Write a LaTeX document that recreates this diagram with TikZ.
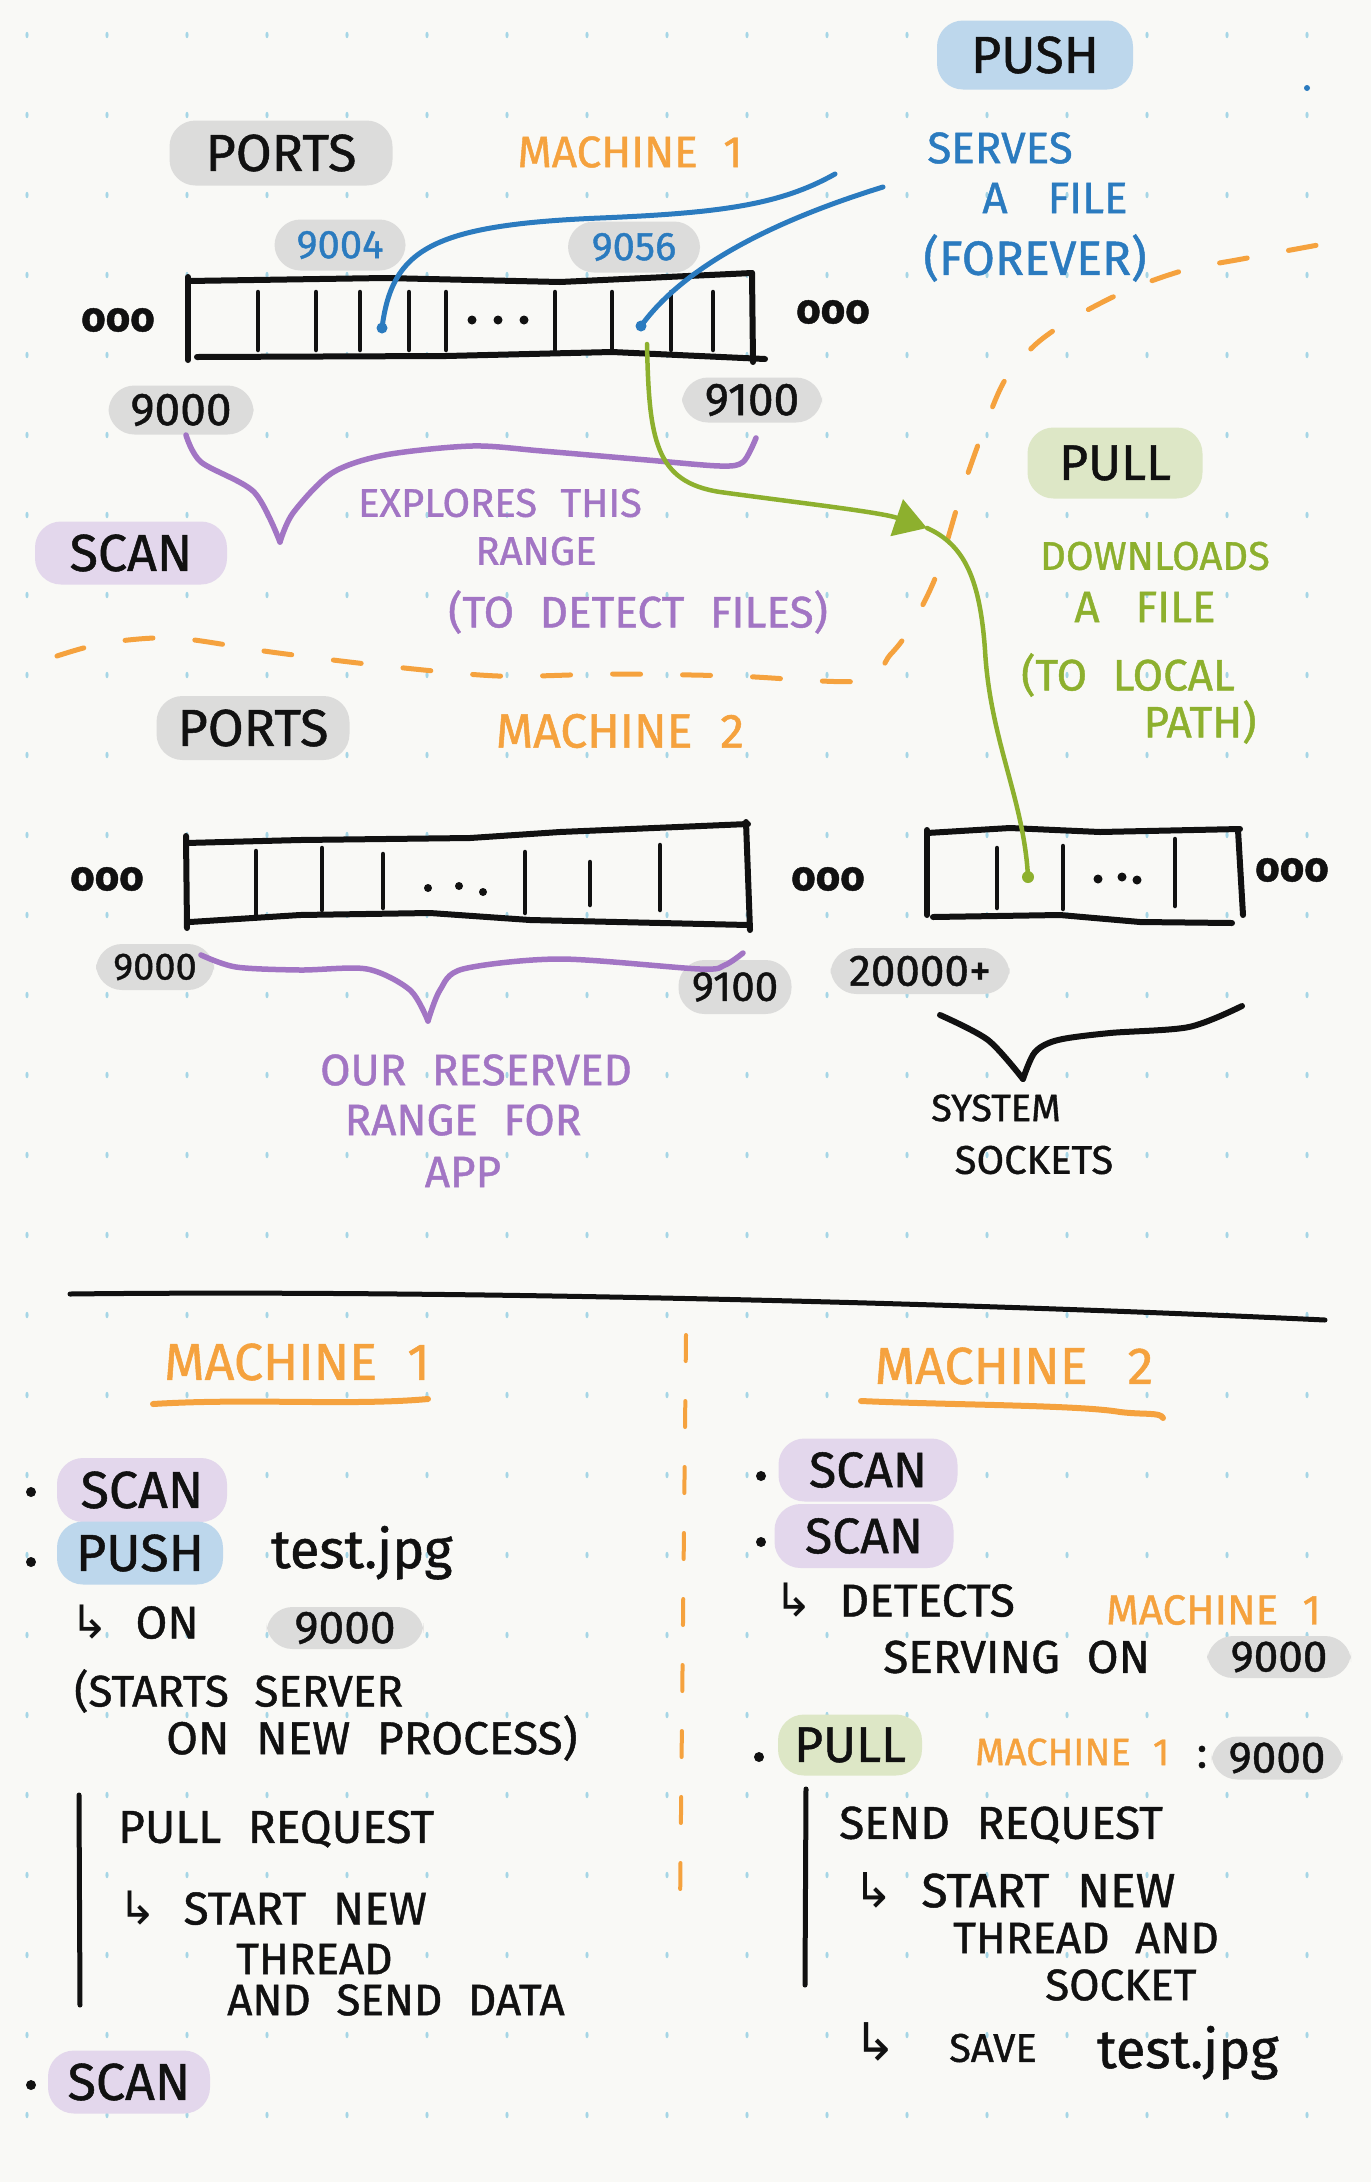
\documentclass[tikz,border=0pt]{standalone}
\usepackage{fontspec}
\setmainfont{Fira Sans}[WordSpace=2.2, FakeBold=1]
\newfontfamily\symf{DejaVu Sans}
\usetikzlibrary{arrows.meta}
\definecolor{bgc}{HTML}{F9F9F6}
\definecolor{gridc}{HTML}{A6D6E6}
\definecolor{ink}{HTML}{111111}
\definecolor{orng}{HTML}{F5A23E}
\definecolor{blu}{HTML}{2B7BBF}
\definecolor{purp}{HTML}{A275C4}
\definecolor{grn}{HTML}{8DB02E}
\definecolor{pillgrey}{HTML}{DCDCDB}
\definecolor{pillpurp}{HTML}{E3D7EC}
\definecolor{pillblue}{HTML}{BDD7EC}
\definecolor{pillgreen}{HTML}{DDE7C6}
\newcommand{\fsz}[1]{\fontsize{#1}{#1}\selectfont}
\tikzset{
  tk/.style={inner sep=0pt, text=ink},
  ot/.style={inner sep=0pt, text=orng},
  bt/.style={inner sep=0pt, text=blu},
  purt/.style={inner sep=0pt, text=purp},
  greent/.style={inner sep=0pt, text=grn},
  pill/.style={rounded corners=26pt, inner sep=0pt, text=ink},
  gpill/.style={pill, fill=pillgrey},
  ppill/.style={pill, fill=pillpurp},
  bpill/.style={pill, fill=pillblue},
  grpill/.style={pill, fill=pillgreen},
  strip/.style={draw=ink, line width=6pt, line cap=round, line join=round},
  inner/.style={draw=ink, line width=4.5pt, line cap=round},
  bline/.style={draw=blu, line width=5pt, line cap=round},
  gline/.style={draw=grn, line width=4.5pt, line cap=round},
  pline/.style={draw=purp, line width=5.5pt, line cap=round, line join=round},
  kline/.style={draw=ink, line width=6pt, line cap=round, line join=round},
  odash/.style={draw=orng, line width=5pt, line cap=round, dash pattern=on 28pt off 42pt},
  ouline/.style={draw=orng, line width=6pt, line cap=round},
  bdot/.style={circle, fill=blu, inner sep=0pt, minimum size=11pt},
  gdot/.style={circle, fill=grn, inner sep=0pt, minimum size=12pt},
  bullet/.style={circle, fill=ink, inner sep=0pt, minimum size=10pt},
  ooo/.style={inner sep=0pt, text=ink, font=\fsz{42}\bfseries},
}
\begin{document}
\begin{tikzpicture}[x=1pt,y=-1pt]
\useasboundingbox (0,0) rectangle (1371,2182);
\fill[bgc] (0,0) rectangle (1371,2182);
\foreach \i in {0,...,16} \foreach \j in {0,...,26}
  \fill[gridc] (27+80*\i,35+80*\j) ellipse (1.6 and 3.2);

% ---------------- top: machine 1 ----------------
\node[bpill, minimum width=196pt, minimum height=69pt, font=\fsz{52}] (push) at (1035,55) {PUSH};
\fill[blu] (1307,88) circle (3);
\node[gpill, minimum width=223pt, minimum height=65pt, font=\fsz{52}] (ports1) at (281,153) {PORTS};
\node[ot, font=\fsz{44}] (m1) at (630,152) {MACHINE 1};
\node[bt, font=\fsz{44}] (serves) at (1000,148) {SERVES};
\node[bt, font=\fsz{44}] (afile1) at (1055,198) {A\hspace{40pt}FILE};
\node[bt, font=\fsz{48}] (forever) at (1035,258) {(FOREVER)};
\node[gpill, minimum width=131pt, minimum height=51pt, text=blu, font=\fsz{40}] (p9004) at (340,245) {9004};
\node[gpill, minimum width=132pt, minimum height=51pt, text=blu, font=\fsz{40}] (p9056) at (634,247) {9056};

% strip 1
\draw[strip] (188,281) -- (385,278) -- (560,282) -- (752,273);
\draw[strip] (188,277) -- (188,360);
\draw[strip] (197,357) -- (446,356) -- (612,352) -- (765,359);
\draw[strip] (752,273) -- (753,362);
\foreach \x in {258,316,360,409,446,555,612,671,713}
  \draw[inner] (\x,292) -- (\x,350);
\foreach \x in {472,498,524} \fill[ink] (\x,320) circle (4.5);
\node[ooo] (ooo1) at (118,320) {ooo};
\node[ooo] (ooo2) at (833,312) {ooo};

\node[gpill, minimum width=145pt, minimum height=49pt, font=\fsz{46}] (p9000a) at (181,410) {9000};
\node[gpill, minimum width=140pt, minimum height=45pt, font=\fsz{46}] (p9100a) at (752,400) {9100};

% scan brace
\draw[pline] plot[smooth] coordinates {(186,435) (201,462) (254,492) (280,542)};
\draw[pline] plot[smooth] coordinates {(280,542) (293,513) (332,473) (385,455) (472,446) (542,451) (647,460) (720,466) (743,462) (756,438)};
\node[purt, font=\fsz{40}] (explores) at (500,503) {EXPLORES THIS};
\node[purt, font=\fsz{40}] (range1) at (536,551) {RANGE};
\node[purt, font=\fsz{44}] (detect) at (638,612) {(TO DETECT FILES)};
\node[ppill, minimum width=192pt, minimum height=63pt, font=\fsz{52}] (scan1) at (131,553) {SCAN};

% pull
\node[grpill, minimum width=175pt, minimum height=71pt, font=\fsz{50}] (pull1) at (1115,463) {PULL};
\node[greent, font=\fsz{40}] (downloads) at (1155,556) {DOWNLOADS};
\node[greent, font=\fsz{44}] (afile2) at (1145,607) {A\hspace{36pt}FILE};
\node[greent, font=\fsz{44}] (tolocal) at (1128,675) {(TO LOCAL};
\node[greent, font=\fsz{44}] (path) at (1200,722) {PATH)};

% orange dashed boundary
\draw[odash] plot[smooth] coordinates {(57,656) (105,643) (175,638) (271,652) (376,665) (498,676) (612,674) (734,676) (861,681) (890,655) (909,630) (936,576) (962,491) (984,429) (1005,380) (1036,344) (1075,317) (1128,290) (1185,270) (1242,259) (1329,243)};

% blue connectors
\node[bdot] (d9004) at (382,328) {};
\node[bdot] (d9056) at (641,326) {};
\coordinate (b1end) at (835,174);
\coordinate (b2end) at (883,187);
\draw[bline] (d9004.center) .. controls (392,250) and (430,225) .. (600,218) .. controls (720,213) and (780,205) .. (b1end);
\draw[bline] (d9056.center) .. controls (680,272) and (760,225) .. (b2end);

% ---------------- machine 2 ----------------
\node[gpill, minimum width=193pt, minimum height=64pt, font=\fsz{52}] (ports2) at (253,728) {PORTS};
\node[ot, font=\fsz{48}] (m2) at (620,731) {MACHINE 2};

% strip 2
\draw[strip] (186,843) -- (300,840) -- (470,838) -- (560,832) -- (748,824);
\draw[strip] (186,836) -- (187,928);
\draw[strip] (190,922) -- (300,915) -- (430,913) -- (530,920) -- (748,925);
\draw[strip] (746,822) -- (750,930);
\foreach \x/\a/\b in {256/851/915,322/848/910,383/854/908,525/852/913,590/862/905,660/845/910}
  \draw[inner] (\x,\a) -- (\x,\b);
\foreach \x/\y in {428/888,459/886,483/892} \fill[ink] (\x,\y) circle (4);
\node[ooo] (ooo3) at (107,879) {ooo};
\node[ooo] (ooo4) at (828,879) {ooo};

% strip 3
\draw[strip] (927,833) -- (1010,828) -- (1100,832) -- (1240,829);
\draw[strip] (927,830) -- (927,915);
\draw[strip] (933,917) -- (1060,915) -- (1140,922) -- (1232,923);
\draw[strip] (1238,830) -- (1243,915);
\foreach \x/\a/\b in {997/848/908,1063/846/909,1175/839/906}
  \draw[inner] (\x,\a) -- (\x,\b);
\foreach \x/\y in {1098/879,1122/877,1137/880} \fill[ink] (\x,\y) circle (4.5);
\node[ooo] (ooo5) at (1292,870) {ooo};

% green connector
\coordinate (gstart) at (647,344);
\coordinate (gmid) at (927,528);
\node[gdot] (g2dot) at (1028,877) {};
\draw[gline, -{Triangle[length=32pt,width=38pt]}] (gstart) .. controls (649,440) and (655,482) .. (720,492) .. controls (800,503) and (880,512) .. (gmid);
\draw[gline] (gmid) .. controls (965,545) and (980,580) .. (985,650) .. controls (990,740) and (1024,800) .. (g2dot.center);

\node[gpill, minimum width=118pt, minimum height=46pt, font=\fsz{38}] (p9000b) at (155,967) {9000};
\node[gpill, minimum width=113pt, minimum height=54pt, font=\fsz{42}] (p9100b) at (735,987) {9100};
\node[gpill, minimum width=179pt, minimum height=46pt, font=\fsz{44}] (p20000) at (920,971) {20000+};

\draw[pline] plot[smooth] coordinates {(201,955) (236,967) (300,970) (367,969) (410,990) (428,1021)};
\draw[pline] plot[smooth] coordinates {(428,1021) (440,990) (463,969) (560,959) (700,969) (725,965) (743,953)};
\node[purt, font=\fsz{44}] (ourres) at (476,1070) {OUR RESERVED};
\node[purt, font=\fsz{44}] (rangefor) at (463,1120) {RANGE FOR};
\node[purt, font=\fsz{44}] (app) at (463,1172) {APP};

\draw[kline] plot[smooth] coordinates {(940,1015) (988,1040) (1023,1079)};
\draw[kline] plot[smooth] coordinates {(1023,1079) (1035,1052) (1058,1040) (1110,1033) (1189,1027) (1242,1006)};
\node[tk, font=\fsz{38}] (system) at (996,1108) {SYSTEM};
\node[tk, font=\fsz{40}] (sockets) at (1034,1160) {SOCKETS};

% ---------------- bottom ----------------
\draw[kline, line width=5pt] (70,1294) .. controls (400,1290) and (900,1300) .. (1325,1320);
\draw[odash, line width=4pt, dash pattern=on 26pt off 40pt] (686,1335) -- (680,1910);

\node[ot, font=\fsz{52}] (m1b) at (297,1362) {MACHINE 1};
\draw[ouline] (153,1404) .. controls (250,1398) and (350,1406) .. (428,1399);
\node[ot, font=\fsz{52}] (m2b) at (1014,1366) {MACHINE\hspace{40pt}2};
\draw[ouline] (861,1401) .. controls (950,1405) and (1080,1405) .. (1120,1412) .. controls (1145,1415) and (1160,1412) .. (1163,1418);

% left column
\node[bullet] (bl1) at (31,1492) {};
\node[ppill, minimum width=170pt, minimum height=64pt, font=\fsz{52}] (scanL1) at (142,1490) {SCAN};
\node[bullet] (bl2) at (31,1562) {};
\node[bpill, minimum width=166pt, minimum height=63pt, font=\fsz{52}] (pushL) at (140,1553) {PUSH};
\node[tk, anchor=base west, font=\fsz{54}] (testL) at (271,1568) {test.jpg};
\node[tk, anchor=west, font=\fsz{46}] (onL) at (70,1622) {{\symf ↳} ON};
\node[gpill, minimum width=157pt, minimum height=42pt, font=\fsz{46}] (p9000c) at (345,1628) {9000};
\node[tk, anchor=west, font=\fsz{44}] (starts) at (74,1691) {(STARTS SERVER};
\node[tk, anchor=west, font=\fsz{46}] (onnew) at (166,1738) {ON NEW PROCESS)};
\draw[kline, line width=5pt] (79,1795) -- (80,2005);
\node[tk, anchor=west, font=\fsz{46}] (pullreq) at (118,1829) {PULL REQUEST};
\node[tk, anchor=west, font=\fsz{46}] (startnewL) at (118,1908) {{\symf ↳} START NEW};
\node[tk, anchor=west, font=\fsz{44}] (threadL) at (236,1959) {THREAD};
\node[tk, anchor=west, font=\fsz{44}] (senddata) at (227,2000) {AND SEND DATA};
\node[bullet] (bl3) at (31,2085) {};
\node[ppill, minimum width=162pt, minimum height=63pt, font=\fsz{52}] (scanL2) at (129,2082) {SCAN};

% right column
\node[bullet] (br1) at (761,1476) {};
\node[ppill, minimum width=179pt, minimum height=63pt, font=\fsz{50}] (scanR1) at (868,1470) {SCAN};
\node[bullet] (br2) at (761,1542) {};
\node[ppill, minimum width=179pt, minimum height=64pt, font=\fsz{50}] (scanR2) at (864,1536) {SCAN};
\node[tk, anchor=west, font=\fsz{46}] (detects) at (774,1600) {{\symf ↳} DETECTS};
\node[ot, anchor=west, font=\fsz{42}] (m1c) at (1106,1610) {MACHINE 1};
\node[tk, anchor=west, font=\fsz{46}] (serving) at (883,1657) {SERVING ON};
\node[gpill, minimum width=144pt, minimum height=42pt, font=\fsz{44}] (p9000d) at (1279,1657) {9000};
\node[bullet] (br3) at (759,1757) {};
\node[grpill, minimum width=144pt, minimum height=61pt, font=\fsz{50}] (pullR) at (850,1745) {PULL};
\node[ot, anchor=west, font=\fsz{38}] (m1d) at (975,1752) {MACHINE 1};
\node[tk, font=\fsz{44}] (colon) at (1202,1757) {:};
\node[gpill, minimum width=131pt, minimum height=43pt, font=\fsz{44}] (p9000e) at (1277,1758) {9000};
\draw[kline, line width=5pt] (806,1789) -- (805,1985);
\node[tk, anchor=west, font=\fsz{46}] (sendreq) at (839,1825) {SEND REQUEST};
\node[tk, anchor=west, font=\fsz{48}] (startnewR) at (853,1890) {{\symf ↳} START NEW};
\node[tk, anchor=west, font=\fsz{44}] (threadR) at (953,1938) {THREAD AND};
\node[tk, anchor=west, font=\fsz{44}] (socket) at (1045,1985) {SOCKET};
\node[tk, anchor=west, font=\fsz{52}] (arrR) at (853,2042) {{\symf ↳}};
\node[tk, anchor=west, font=\fsz{40}] (save) at (949,2048) {SAVE};
\node[tk, anchor=base west, font=\fsz{54}] (testR) at (1097,2068) {test.jpg};
\end{tikzpicture}
\end{document}
